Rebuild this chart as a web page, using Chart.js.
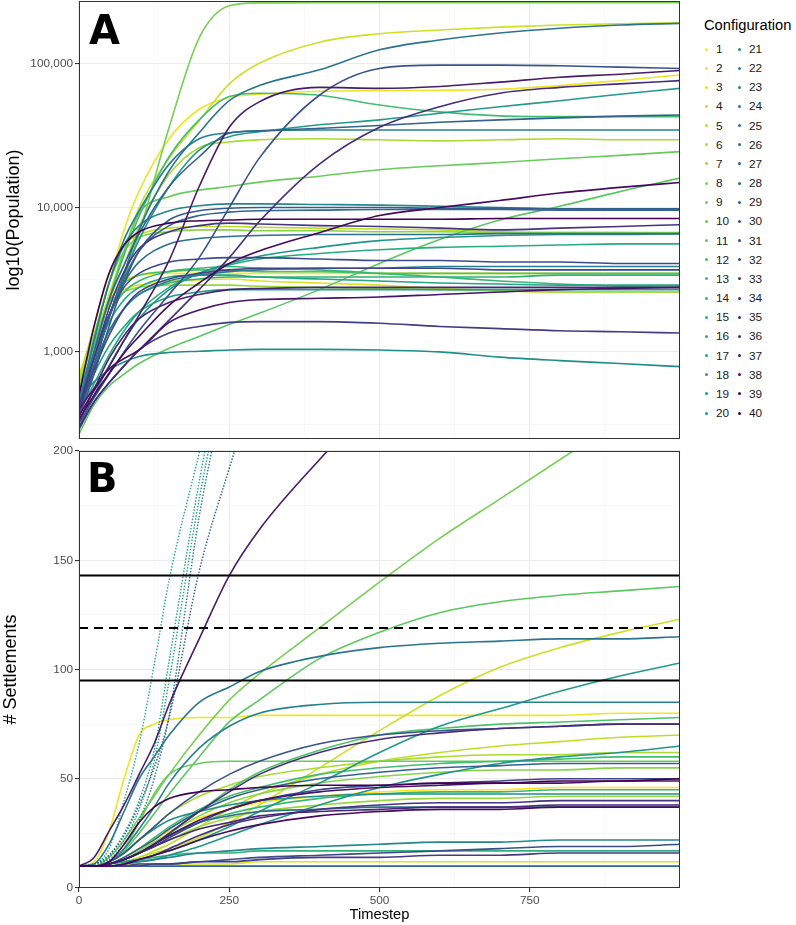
<!DOCTYPE html>
<html><head><meta charset="utf-8">
<script src="https://cdn.jsdelivr.net/npm/chart.js@4.4.1/dist/chart.umd.min.js"></script>
<style>
body{margin:0;background:#fff;}
#wrap{position:relative;width:796px;height:925px;font-family:"Liberation Sans",Arial,sans-serif;overflow:hidden;}
canvas{position:absolute;left:0;}
#cA{top:0;}
#cB{top:445px;}
.panel{position:absolute;font-family:"DejaVu Sans";font-weight:bold;font-size:40px;line-height:40px;color:#000;}
.lg{position:absolute;font-size:11.8px;line-height:16px;height:16px;color:#1a1a1a;}
.dot{position:absolute;width:3px;height:3px;border-radius:50%;}
#lgt{position:absolute;left:704px;top:16px;font-size:14.7px;line-height:18px;color:#000;}
</style></head>
<body><div id="wrap">
<canvas id="cA" width="690" height="445"></canvas>
<canvas id="cB" width="690" height="480"></canvas>
<div class="panel" style="left:89px;top:10px;">A</div>
<div class="panel" style="left:87px;top:458px;">B</div>
<div id="lgt">Configuration</div>
<div id="legend"></div>
</div>
<script>
// ---------- DATA ----------
const configs = Array.from({length:40},(_,i)=>i+1);
const timeA = [0,25,50,75,100,150,200,250,300,400,500,600,700,800,900,1000];
const timeB = [0,25,50,75,100,125,150,200,250,300,400,500,600,700,800,900,1000];
const popTicks = [1000,10000,100000];
const stepTicks = [0,250,500,750];
const settleTicks = [0,50,100,150,200];
const refLevels = [143,119,95];
const dottedConfigs = [16,17,18,24,29];

// Panel A: population per configuration at timeA
const popC1  = [650,1300,2300,3100,3400,3500,3500,3500,3500,3500,3500,3500,3500,3500,3500,3500];
const popC2  = [610,1300,3000,7000,13000,30000,48000,58000,61000,64000,64500,65000,66000,70000,76000,83000];
const popC3  = [700,1300,2100,2700,2900,3100,3150,3200,3100,3000,2900,2750,2650,2600,2600,2600];
const popC4  = [600,1200,2500,5000,10000,22000,40000,72000,100000,140000,160000,170000,178000,184000,188000,191000];
const popC5  = [650,1500,3500,5500,6500,7200,7400,7400,7300,7200,7100,7000,6800,6700,6700,6600];
const popC6  = [610,1200,2300,4000,7400,17000,26000,28500,29500,30000,29500,29000,29500,30000,29500,29500];
const popC7  = [620,1200,2100,2600,2800,2900,2900,2900,2850,2800,2750,2700,2650,2600,2600,2600];
const popC8  = [560,1300,3000,5000,6200,6800,7000,7000,6900,6900,6800,6800,6700,6700,6700,6700];
const popC9  = [470,900,1750,3300,6600,36000,150000,250000,262000,263000,263000,263000,263000,263000,263000,263000];
const popC10 = [470,1000,2300,5000,9100,11900,13200,14000,15000,16500,18300,19500,20500,21800,23000,24400];
const popC11 = [270,430,580,700,830,1060,1280,1550,1850,2700,4100,6000,8200,10200,12900,16000];
const popC12 = [520,1100,2200,3000,3400,3600,3700,3700,3600,3600,3500,3500,3500,3500,3500,3500];
const popC13 = [470,1000,2300,4700,8700,22500,40500,58800,62000,60000,51400,46000,43200,42700,42700,42700];
const popC14 = [500,1000,1800,2600,3100,3600,3800,3900,3800,3700,3500,3300,3100,2950,2850,2800];
const popC15 = [450,800,1400,2000,2500,3000,3200,3300,3300,3300,3300,3300,3300,3400,3400,3400];
const popC16 = [380,600,950,1400,1900,2800,3500,4000,4400,4800,5100,5300,5400,5500,5600,5600];
const popC17 = [430,900,1600,2300,2800,3300,3400,3400,3300,3200,3100,3000,2950,2900,2900,2900];
const popC18 = [400,700,1100,1500,1900,2400,2600,2700,2700,2700,2700,2700,2700,2700,2700,2700];
const popC19 = [360,800,1760,3400,6000,14000,25000,31000,33500,37500,40500,45000,50000,55000,61000,67000];
const popC20 = [300,500,800,1200,1700,2700,3500,4100,4600,5300,5900,6200,6400,6500,6500,6600];
const popC21 = [470,620,750,850,930,990,1010,1030,1040,1040,1030,1000,920,870,830,790];
const popC22 = [450,1200,3000,5500,7500,9500,10300,10600,10600,10500,10400,10200,10000,9800,9700,9600];
const popC23 = [400,1200,3000,6000,9500,20000,30000,33000,34000,34500,34500,34500,34500,34500,34500,34500];
const popC24 = [420,800,1400,2000,2500,3100,3400,3600,3700,3800,3800,3900,3900,3900,3900,3900];
const popC25 = [360,800,1750,3500,7000,18000,33000,55000,70000,90000,124000,145000,162000,175000,184000,189000];
const popC26 = [400,900,1800,3000,4200,5600,6100,6300,6400,6500,6500,6500,6600,6600,6600,6600];
const popC27 = [380,800,1700,3200,5000,7500,8800,9300,9500,9600,9700,9700,9700,9600,9600,9600];
const popC28 = [420,1000,2300,4000,6600,14000,22500,32800,34000,35400,37000,39000,40500,41800,43000,43800];
const popC29 = [350,700,1500,3000,5000,8200,9500,9900,10000,10000,10000,9900,9900,9800,9800,9800];
const popC30 = [320,480,700,1000,1400,2500,4500,10000,22000,60000,92000,97000,97000,96000,94000,92000];
const popC31 = [380,900,1800,2800,3500,4200,4400,4500,4500,4400,4300,4300,4200,4200,4100,4100];
const popC32 = [400,750,1300,2000,2600,3200,3500,3700,3800,3800,3800,3800,3700,3700,3700,3700];
const popC33 = [290,450,610,800,1030,1350,1500,1600,1620,1620,1580,1500,1450,1400,1380,1350];
const popC34 = [420,900,2000,3600,5200,6800,7500,7800,7700,7500,7400,7200,7000,7200,7400,7600];
const popC35 = [300,450,610,800,1030,1660,2700,4500,8000,20000,36000,50000,62000,68000,72000,75800];
const popC36 = [330,550,900,1300,1700,2200,2500,2700,2750,2800,2800,2800,2800,2800,2800,2800];
const popC37 = [400,560,790,1200,1800,4300,14000,36000,54000,68000,67000,69000,74000,80000,84000,89000];
const popC38 = [360,540,760,900,1030,1600,1950,2200,2300,2350,2400,2500,2600,2700,2750,2800];
const popC39 = [340,500,710,980,1280,2100,3000,4100,5000,6700,8800,10000,11200,12600,13800,14900];
const popC40 = [500,1500,3500,5500,6800,7800,8100,8200,8300,8300,8300,8300,8400,8400,8400,8400];

// Panel B: number of settlements per configuration at timeB
const setC1  = [10,10,11,14,18,22,26,32,36,39,42,44,45,45,46,46,46];
const setC2  = [10,12,26,50,70,75,77,78,78,79,79,79,79,79,79,80,80];
const setC3  = [10,10,10,11,11,11,11,11,11,12,12,12,12,12,12,12,12];
const setC4  = [10,10,11,12,14,16,18,23,30,38,55,72,88,101,110,117,123];
const setC5  = [10,10,11,12,14,17,20,28,36,43,52,58,62,65,67,69,70];
const setC6  = [10,10,12,16,22,28,34,42,47,51,55,58,60,61,61,62,62];
const setC7  = [10,10,11,13,16,19,22,28,32,35,38,40,41,41,42,42,42];
const setC8  = [10,10,11,13,17,21,25,33,39,43,48,51,53,54,54,55,55];
const setC9  = [10,10,14,22,32,42,52,70,86,98,119,140,160,178,196,214,232];
const setC10 = [10,10,12,18,30,43,52,57,58,58,58,58,58,58,58,58,58];
const setC11 = [10,10,12,17,25,34,43,60,76,86,105,117,126,131,134,136,138];
const setC12 = [10,10,11,13,16,20,25,35,45,53,63,70,73,75,76,77,78];
const setC13 = [10,10,11,14,18,23,28,36,42,46,52,55,57,58,59,60,60];
const setC14 = [10,10,11,13,16,20,24,30,34,37,41,43,44,44,45,45,45];
const setC15 = [10,10,11,12,13,14,15,16,16,17,17,17,17,17,17,17,17];
const setC16 = [10,11,18,40,66,102,141,199,255];
const setC17 = [10,11,15,25,40,63,104,186,255];
const setC18 = [10,11,14,22,36,58,95,178,245];
const setC19 = [10,10,11,12,13,15,17,22,28,35,48,62,74,82,90,97,103];
const setC20 = [10,10,10,11,12,13,15,19,24,29,38,46,52,57,60,62,65];
const setC21 = [10,10,12,16,22,27,31,35,38,40,42,43,43,43,43,43,43];
const setC22 = [10,10,10,11,12,13,14,16,17,18,19,20,21,21,22,22,22];
const setC23 = [10,10,12,18,27,37,48,64,74,80,84,85,85,85,85,85,85];
const setC24 = [10,11,13,20,31,50,79,170,238];
const setC25 = [10,11,20,35,50,60,70,85,92,99,106,110,112,113,114,114,115];
const setC26 = [10,10,11,13,16,20,24,30,33,35,36,37,37,37,37,37,37];
const setC27 = [10,10,10,10,10,10,10,10,10,10,10,10,10,10,10,10,10];
const setC28 = [10,10,11,14,18,22,27,35,41,45,50,53,55,56,57,57,57];
const setC29 = [10,11,15,24,38,55,78,145,192,235];
const setC30 = [10,10,12,16,22,28,34,44,52,58,66,70,72,73,74,75,75];
const setC31 = [10,10,10,10,10,11,11,12,13,14,15,16,17,18,19,19,20];
const setC32 = [10,10,11,13,16,19,23,30,36,40,45,47,48,49,50,50,50];
const setC33 = [10,10,10,10,11,11,11,12,12,13,14,14,15,15,16,16,16];
const setC34 = [10,10,10,11,13,15,18,24,29,32,36,38,39,39,40,40,40];
const setC35 = [10,10,11,13,16,20,25,35,44,52,62,68,71,73,74,75,75];
const setC36 = [10,10,11,13,16,19,22,27,30,33,35,36,37,37,38,38,38];
const setC37 = [10,14,26,38,52,66,84,114,143,164,196,225];
const setC38 = [10,10,11,13,16,20,24,31,36,40,44,46,47,48,48,49,49];
const setC39 = [10,10,10,11,13,15,17,22,26,29,33,35,36,36,37,37,37];
const setC40 = [10,10,12,20,30,37,41,44,45,46,47,47,48,48,49,49,50];

const popSeries = [popC1,popC2,popC3,popC4,popC5,popC6,popC7,popC8,popC9,popC10,popC11,popC12,popC13,popC14,popC15,popC16,popC17,popC18,popC19,popC20,popC21,popC22,popC23,popC24,popC25,popC26,popC27,popC28,popC29,popC30,popC31,popC32,popC33,popC34,popC35,popC36,popC37,popC38,popC39,popC40];
const setSeries = [setC1,setC2,setC3,setC4,setC5,setC6,setC7,setC8,setC9,setC10,setC11,setC12,setC13,setC14,setC15,setC16,setC17,setC18,setC19,setC20,setC21,setC22,setC23,setC24,setC25,setC26,setC27,setC28,setC29,setC30,setC31,setC32,setC33,setC34,setC35,setC36,setC37,setC38,setC39,setC40];

// ---------- STYLE ----------
const VIR = ['#440154','#482475','#414487','#355F8D','#2A788E','#21918C','#22A884','#44BF70','#7AD151','#BDDF26','#FDE725'];
function hex2rgb(h){return [1,3,5].map(i=>parseInt(h.substr(i,2),16));}
function viridis(p){
  const s=Math.max(0,Math.min(1,p))*10, i=Math.min(9,Math.floor(s)), f=s-i;
  const a=hex2rgb(VIR[i]), b=hex2rgb(VIR[i+1]);
  const c=a.map((v,k)=>Math.round(v+(b[k]-v)*f));
  return 'rgb('+c.join(',')+')';
}
const colorOf = c => viridis(1-(c-1)/39);

const FONT = '"Liberation Sans", Arial, sans-serif';
const GRID_MAJOR = '#EBEBEB', GRID_MINOR = '#F4F4F4';
const isMajorLog = v => Math.abs(Math.log10(v)-Math.round(Math.log10(v)))<1e-6;
const noPad = s => { s.paddingTop=0; s.paddingBottom=0; s.paddingLeft=0; s.paddingRight=0; };

const borderPlugin = {
  id:'panelBorder',
  afterDraw(chart){
    const {ctx, chartArea:a} = chart;
    ctx.save(); ctx.strokeStyle='#333333'; ctx.lineWidth=1;
    ctx.strokeRect(Math.round(a.left)+0.5, Math.round(a.top)+0.5, Math.round(a.right-a.left)-1, Math.round(a.bottom-a.top)-1);
    ctx.restore();
  }
};

function xScale(showLabels){
  return {
    type:'linear', min:0, max:1000,
    afterBuildTicks: s => { const t=[]; for(let v=0; v<=1000; v+=125) t.push({value:v}); s.ticks=t; },
    afterFit: s => { s.height = showLabels ? 36 : 0; noPad(s); },
    grid:{
      color: c => (c.tick && c.tick.value%250===0) ? GRID_MAJOR : GRID_MINOR,
      lineWidth: c => (c.tick && c.tick.value%250===0) ? 1.1 : 0.6,
      drawTicks: showLabels, tickLength:4,
      tickColor: c => (c.tick && c.tick.value%250===0 && c.tick.value<1000) ? '#333333' : 'rgba(0,0,0,0)'
    },
    border:{display:false},
    ticks:{
      display:showLabels, autoSkip:false, maxRotation:0, padding:2,
      color:'#4D4D4D', font:{family:FONT, size:11.8},
      callback: v => (v%250===0 && v<1000) ? String(v) : ''
    },
    title:{display:showLabels, text:'Timestep', color:'#000', font:{family:FONT, size:14.7}, padding:{top:0,bottom:0}}
  };
}

// ---------- PANEL A ----------
const dsA = configs.map((c,i)=>({
  label:String(c),
  data: timeA.map((t,k)=>({x:t, y:popSeries[i][k]})),
  borderColor: colorOf(c), borderWidth:1.6, pointRadius:0,
  cubicInterpolationMode:'monotone', fill:false
})).reverse();

new Chart(document.getElementById('cA'), {
  type:'line',
  data:{datasets:dsA},
  plugins:[borderPlugin],
  options:{
    responsive:false, animation:false, devicePixelRatio:1,
    layout:{padding:{left:0,right:10,top:1,bottom:6}},
    plugins:{legend:{display:false}, tooltip:{enabled:false}},
    scales:{
      x: xScale(false),
      y:{
        type:'logarithmic', min:249, max:270000,
        afterBuildTicks: s => { s.ticks = [Math.pow(10,2.5),1000,Math.pow(10,3.5),10000,Math.pow(10,4.5),100000].map(v=>({value:v})); },
        afterFit: s => { s.width = 79; noPad(s); },
        grid:{
          color: c => (c.tick && isMajorLog(c.tick.value)) ? GRID_MAJOR : GRID_MINOR,
          lineWidth: c => (c.tick && isMajorLog(c.tick.value)) ? 1.1 : 0.6,
          tickLength:4,
          tickColor: c => (c.tick && isMajorLog(c.tick.value)) ? '#333333' : 'rgba(0,0,0,0)'
        },
        border:{display:false},
        ticks:{
          autoSkip:false, padding:2, color:'#4D4D4D', font:{family:FONT, size:11.8},
          callback: v => isMajorLog(v) ? Math.round(v).toLocaleString('en-US') : ''
        },
        title:{display:true, text:'log10(Population)', color:'#000', font:{family:FONT, size:18}, padding:{top:3,bottom:0}}
      }
    }
  }
});

// ---------- PANEL B ----------
const dsB = configs.map((c,i)=>({
  label:String(c),
  data: setSeries[i].map((v,k)=>({x:timeB[k], y:v})),
  borderColor: colorOf(c), borderWidth: dottedConfigs.includes(c) ? 1.4 : 1.6, pointRadius:0,
  borderDash: dottedConfigs.includes(c) ? [1.5,1.6] : [],
  cubicInterpolationMode:'monotone', fill:false
})).reverse();
const refDs = refLevels.map((lv,i)=>({
  label:'ref'+lv,
  data:[{x:0,y:lv},{x:1000,y:lv}],
  borderColor:'#000', borderWidth:1.9, pointRadius:0,
  borderDash: i===1 ? [9,6] : [], fill:false
}));

new Chart(document.getElementById('cB'), {
  type:'line',
  data:{datasets: refDs.concat(dsB)},
  plugins:[borderPlugin],
  options:{
    responsive:false, animation:false, devicePixelRatio:1,
    layout:{padding:{left:0,right:10,top:6,bottom:1}},
    plugins:{legend:{display:false}, tooltip:{enabled:false}},
    scales:{
      x: xScale(true),
      y:{
        type:'linear', min:0, max:200,
        afterBuildTicks: s => { const t=[]; for(let v=0; v<=200; v+=25) t.push({value:v}); s.ticks=t; },
        afterFit: s => { s.width = 79; noPad(s); },
        grid:{
          color: c => (c.tick && c.tick.value%50===0) ? GRID_MAJOR : GRID_MINOR,
          lineWidth: c => (c.tick && c.tick.value%50===0) ? 1.1 : 0.6,
          tickLength:4,
          tickColor: c => (c.tick && c.tick.value%50===0) ? '#333333' : 'rgba(0,0,0,0)'
        },
        border:{display:false},
        ticks:{
          autoSkip:false, padding:2, color:'#4D4D4D', font:{family:FONT, size:11.8},
          callback: v => (v%50===0) ? String(v) : ''
        },
        title:{display:true, text:'# Settlements', color:'#000', font:{family:FONT, size:18}, padding:{top:0,bottom:0}}
      }
    }
  }
});

// ---------- LEGEND ----------
const lg = document.getElementById('legend');
configs.forEach((c,i)=>{
  const col = i<20 ? 0 : 1, row = i%20;
  const cy = 49 + row*19.16;
  const dx = col===0 ? 706 : 739, tx = col===0 ? 716 : 749;
  const d = document.createElement('div'); d.className='dot';
  d.style.left=(dx-1.5)+'px'; d.style.top=(cy-1.5)+'px'; d.style.background=colorOf(c);
  lg.appendChild(d);
  const t = document.createElement('div'); t.className='lg';
  t.style.left=tx+'px'; t.style.top=(cy-8)+'px'; t.textContent=String(c);
  lg.appendChild(t);
});
</script>
</body></html>
